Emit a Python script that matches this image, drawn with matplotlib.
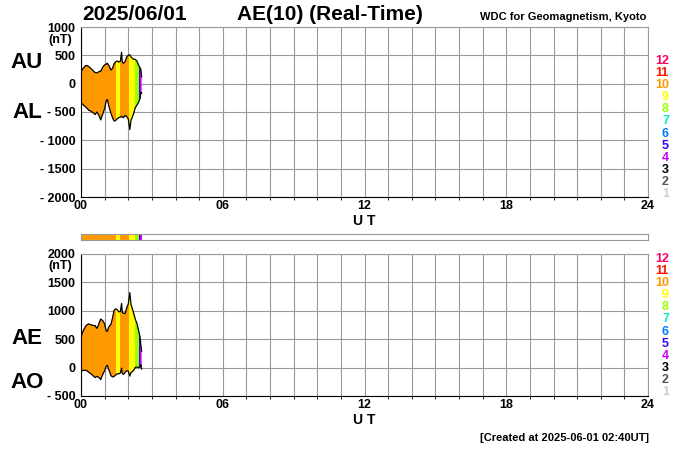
import matplotlib
matplotlib.use("Agg")
import matplotlib.pyplot as plt
import numpy as np

plt.rcParams['font.family'] = ['Liberation Sans', 'DejaVu Sans']
plt.rcParams['font.weight'] = 'bold'

# minutes after 00 UT, AU and AL in nT
t_min = [0, 4, 8, 12, 16, 20, 24, 28, 32, 36, 40, 44, 48, 50, 53, 56, 60, 64, 67,
         70, 73, 76, 80, 84, 88, 92, 96, 100, 103, 105, 108, 112, 116, 120, 124,
         127, 130, 134, 138, 142, 146, 150, 152, 154]
au = [200, 260, 290, 320, 318, 300, 275, 250, 220, 195, 190, 205, 220, 215, 260,
      300, 330, 345, 360, 330, 290, 240, 270, 350, 385, 400, 380, 400, 555, 380,
      360, 390, 470, 500, 510, 470, 450, 430, 430, 400, 330, 280, 250, 120]
al = [-340, -360, -390, -410, -440, -470, -480, -500, -520, -545, -500, -540, -600,
      -640, -580, -520, -440, -300, -280, -380, -450, -520, -600, -660, -650, -620,
      -600, -590, -575, -590, -600, -560, -580, -620, -810, -640, -600, -520, -420,
      -380, -330, -260, -150, -170]

# number of stations used, by time segment (minutes)
seg_start = [0, 89, 99, 121, 136, 147, 151]
seg_end = [89, 99, 121, 136, 147, 151, 154]
seg_count = [10, 9, 10, 9, 8, 5, 4]

count_colors = {12: '#ff0066', 11: '#ff1100', 10: '#ff9900', 9: '#ffff00',
                8: '#99ff00', 7: '#00eecc', 6: '#0077ff', 5: '#3300ff',
                4: '#cc00ff', 3: '#000000', 2: '#555555', 1: '#cccccc'}

top_ticks = [1000, 500, 0, -500, -1000, -1500, -2000]
top_labels = ['1000', '500', '0', '- 500', '- 1000', '- 1500', '- 2000']
bot_ticks = [2000, 1500, 1000, 500, 0, -500]
bot_labels = ['2000', '1500', '1000', '500', '0', '- 500']

t_h = np.array(t_min) / 60.0
au = np.array(au)
al = np.array(al)
ae = au - al
ao = (au + al) / 2.0


def panel(ax, upper, lower, ticks, labels):
    ax.set_xlim(0, 24)
    ax.set_ylim(min(ticks), max(ticks))
    ax.set_xticks([0, 6, 12, 18, 24])
    ax.set_xticklabels(['00', '06', '12', '18', '24'])
    ax.set_xticks(range(25), minor=True)
    ax.set_yticks(ticks)
    ax.set_yticklabels(labels)
    ax.tick_params(length=0, labelsize=9, pad=4)
    ax.tick_params(axis='x', pad=2)
    ax.grid(True, which='both', color='#999999', lw=0.8)
    ax.set_axisbelow(True)
    for s in ['top', 'right']:
        ax.spines[s].set_color('#999999')
    for s in ['left', 'bottom']:
        ax.spines[s].set_color('black')
    # fill clipped to the area between the curves, coloured by station count
    poly = ax.fill_between(t_h, upper, lower, facecolor='none', edgecolor='none')
    path = poly.get_paths()[0]
    for s, e, c in zip(seg_start, seg_end, seg_count):
        r = ax.axvspan(s / 60.0, e / 60.0, color=count_colors[c], lw=0, zorder=2)
        r.set_clip_path(path, ax.transData)
    ax.plot(t_h, upper, color='black', lw=0.9, zorder=3)
    ax.plot(t_h, lower, color='black', lw=0.9, zorder=3)
    ax.text(0.5, -0.14 if max(ticks) == 1000 else -0.17, 'U T', transform=ax.transAxes,
            ha='center', va='center', fontsize=10)
    # station count legend
    for i, n in enumerate(range(12, 0, -1)):
        ax.text(1.077, 0.0, str(n), transform=ax.transAxes, color=count_colors[n],
                ha='right', va='center', fontsize=9)


fig = plt.figure(figsize=(7, 4.5), dpi=100)

ax1 = fig.add_axes([81 / 700, 1 - 197 / 450, 567 / 700, 170 / 450])
ax2 = fig.add_axes([81 / 700, 1 - 396 / 450, 567 / 700, 142 / 450])
axb = fig.add_axes([81 / 700, 1 - 240 / 450, 567 / 700, 6 / 450])

panel(ax1, au, al, top_ticks, top_labels)
panel(ax2, ae, ao, bot_ticks, bot_labels)

# fix legend positions (pixel rows)
for ax, y0 in [(ax1, 61), (ax2, 259)]:
    txts = [t for t in ax.texts if t.get_text().isdigit()]
    for i, t in enumerate(txts):
        t.set_transform(fig.transFigure)
        t.set_position((669 / 700, 1 - (y0 + i * 12.1) / 450))

axb.set_xlim(0, 24)
axb.set_ylim(0, 1)
axb.set_xticks([])
axb.set_yticks([])
for s in axb.spines.values():
    s.set_color('#999999')
for s, e, c in zip(seg_start, seg_end, seg_count):
    axb.axvspan(s / 60.0, e / 60.0, color=count_colors[c], lw=0)

fig.text(60 / 700, 1 - 40 / 450, '(nT)', ha='center', va='center', fontsize=9)
fig.text(60 / 700, 1 - 266 / 450, '(nT)', ha='center', va='center', fontsize=9)
fig.text(27 / 700, 1 - 62 / 450, 'AU', ha='center', va='center', fontsize=16)
fig.text(27 / 700, 1 - 113 / 450, 'AL', ha='center', va='center', fontsize=16)
fig.text(27 / 700, 1 - 338 / 450, 'AE', ha='center', va='center', fontsize=16)
fig.text(27 / 700, 1 - 382 / 450, 'AO', ha='center', va='center', fontsize=16)

fig.text(82 / 700, 1 - 15 / 450, '2025/06/01', ha='left', va='center', fontsize=15)
fig.text(237 / 700, 1 - 15 / 450, 'AE(10) (Real-Time)', ha='left', va='center', fontsize=15)
fig.text(646 / 700, 1 - 17 / 450, 'WDC for Geomagnetism, Kyoto', ha='right', va='center',
         fontsize=8)
fig.text(649 / 700, 1 - 438 / 450, '[Created at 2025-06-01 02:40UT]', ha='right',
         va='center', fontsize=8)

fig.savefig('out.png', dpi=100)
